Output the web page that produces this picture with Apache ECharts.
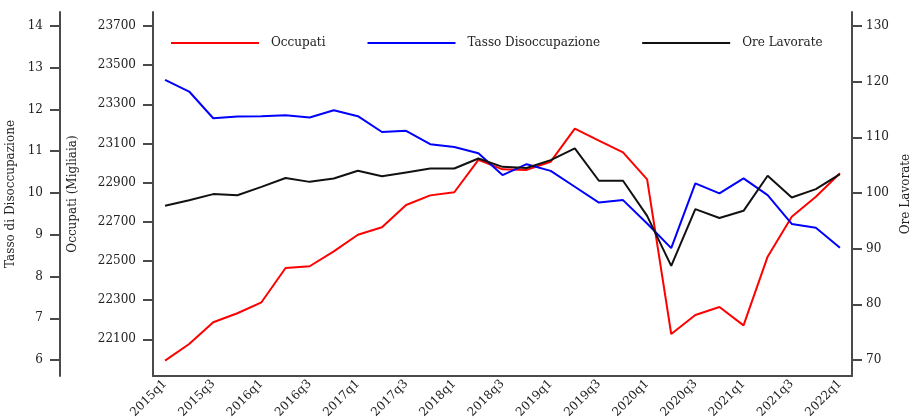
<!DOCTYPE html>
<html>
<head>
<meta charset="utf-8">
<script src="https://cdn.jsdelivr.net/npm/echarts@6/dist/echarts.min.js"></script>
<style>
  html, body { margin: 0; padding: 0; background: #fff; }
  #chart { width: 912px; height: 418px; }
</style>
</head>
<body>
<div id="chart"></div>
<script>
// trimestri
const categories = ['2015q1','2015q2','2015q3','2015q4','2016q1','2016q2','2016q3','2016q4',
  '2017q1','2017q2','2017q3','2017q4','2018q1','2018q2','2018q3','2018q4',
  '2019q1','2019q2','2019q3','2019q4','2020q1','2020q2','2020q3','2020q4',
  '2021q1','2021q2','2021q3','2021q4','2022q1'];

// Occupati (migliaia)
const occupati = [21991, 22076, 22187, 22233, 22289, 22464, 22473, 22549, 22634, 22672,
  22786, 22835, 22851, 23016, 22968, 22965, 23007, 23176, 23115, 23055,
  22917, 22127, 22224, 22265, 22171, 22522, 22726, 22828, 22948];

// Tasso di disoccupazione
const tasso = [12.71, 12.43, 11.79, 11.83, 11.84, 11.86, 11.81, 11.98, 11.84, 11.46,
  11.49, 11.17, 11.10, 10.95, 10.43, 10.69, 10.53, 10.15, 9.77, 9.83,
  9.27, 8.68, 10.23, 9.99, 10.35, 9.95, 9.26, 9.17, 8.69];

// Ore lavorate
const ore = [97.7, 98.7, 99.8, 99.6, 101.1, 102.7, 102.0, 102.6, 104.0, 103.0,
  103.7, 104.4, 104.4, 106.2, 104.7, 104.5, 105.9, 108.0, 102.2, 102.2,
  95.9, 86.9, 97.1, 95.5, 96.8, 103.1, 99.2, 100.7, 103.4];

// etichette degli assi
const tassoTicks = [6, 7, 8, 9, 10, 11, 12, 13, 14];
const occupatiTicks = [22100, 22300, 22500, 22700, 22900, 23100, 23300, 23500, 23700];
const oreTicks = [70, 80, 90, 100, 110, 120, 130];

const FONT = 'DejaVu Serif';
const axisLine = { show: true, lineStyle: { color: '#4a4a4a', width: 2 } };
const labelStyle = { fontFamily: FONT, fontSize: 12, color: '#222' };

function yAxisCfg(name, ticks, min, max, extra, margin) {
  return Object.assign({
    type: 'value',
    name: name,
    nameLocation: 'middle',
    nameTextStyle: { fontFamily: FONT, fontSize: 12, color: '#222' },
    min: min,
    max: max,
    axisLine: axisLine,
    axisTick: { show: true, length: 10, customValues: ticks, lineStyle: { color: '#4a4a4a', width: 2 } },
    axisLabel: Object.assign({ customValues: ticks, margin: margin, formatter: v => String(v) }, labelStyle),
    splitLine: { show: false }
  }, extra);
}

const chart = echarts.init(document.getElementById('chart'));

let option = {
  animation: false,
  grid: { left: 153, right: 60, top: 12, bottom: 42, outerBoundsMode: 'none', containLabel: false },
  legend: {
    left: 166,
    top: 32,
    icon: 'rect',
    itemWidth: 88,
    itemHeight: 2,
    itemGap: 42,
    textStyle: { fontFamily: FONT, fontSize: 12, color: '#222', padding: [0, 0, 0, 7] },
    data: ['Occupati', 'Tasso Disoccupazione', 'Ore Lavorate']
  },
  xAxis: {
    type: 'category',
    data: categories,
    boundaryGap: true,
    axisLine: axisLine,
    axisTick: { show: false },
    axisLabel: Object.assign({ interval: 1, rotate: 45, margin: 6 }, labelStyle),
    splitLine: { show: false }
  },
  yAxis: [
    yAxisCfg('Tasso di Disoccupazione', tassoTicks, 5.617, 14.335, { position: 'left', offset: 93, nameGap: 37 }, 17),
    yAxisCfg('Occupati (Migliaia)', occupatiTicks, 21912.6, 23771.5, { position: 'left', offset: 0, nameGap: 74 }, 17),
    yAxisCfg('Ore Lavorate', oreTicks, 67.13, 132.51, { position: 'right', offset: 0, nameGap: 47 }, 14)
  ],
  series: [
    { name: 'Occupati', type: 'line', yAxisIndex: 1, data: occupati, showSymbol: false,
      lineStyle: { color: '#ff0000', width: 2 }, itemStyle: { color: '#ff0000' } },
    { name: 'Tasso Disoccupazione', type: 'line', yAxisIndex: 0, data: tasso, showSymbol: false,
      lineStyle: { color: '#0000ff', width: 2 }, itemStyle: { color: '#0000ff' } },
    { name: 'Ore Lavorate', type: 'line', yAxisIndex: 2, data: ore, showSymbol: false,
      lineStyle: { color: '#111111', width: 2 }, itemStyle: { color: '#111111' } }
  ]
};

option && chart.setOption(option);
</script>
</body>
</html>
